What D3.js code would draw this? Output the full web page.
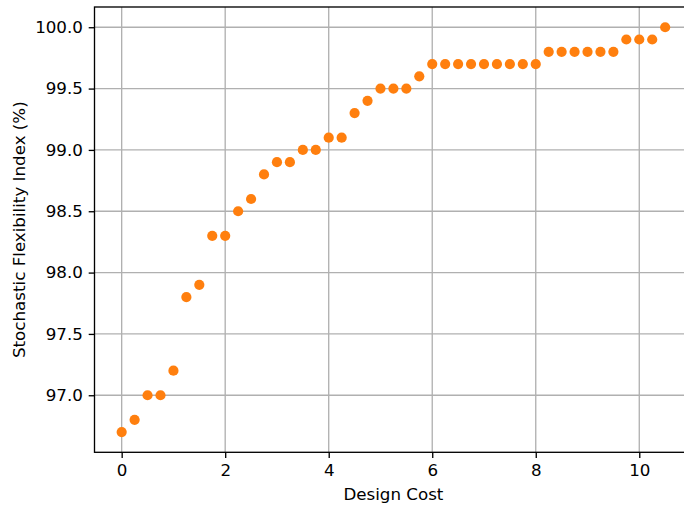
<!DOCTYPE html>
<html><head><meta charset="utf-8">
<script src="https://cdn.jsdelivr.net/npm/d3@7"></script>
<style>body{margin:0;background:#fff}svg{display:block}text{font-family:"DejaVu Sans",sans-serif}</style>
</head><body><svg id="c" width="684" height="506"></svg>
<script>
const designCost = [0,0.25,0.5,0.75,1,1.25,1.5,1.75,2,2.25,2.5,2.75,3,3.25,3.5,3.75,4,4.25,4.5,4.75,5,5.25,5.5,5.75,6,6.25,6.5,6.75,7,7.25,7.5,7.75,8,8.25,8.5,8.75,9,9.25,9.5,9.75,10,10.25,10.5];
const flexIndex = [96.7,96.8,97.0,97.0,97.2,97.8,97.9,98.3,98.3,98.5,98.6,98.8,98.9,98.9,99.0,99.0,99.1,99.1,99.3,99.4,99.5,99.5,99.5,99.6,99.7,99.7,99.7,99.7,99.7,99.7,99.7,99.7,99.7,99.8,99.8,99.8,99.8,99.8,99.8,99.9,99.9,99.9,100.0];
const xTicks = [0,2,4,6,8,10];
const yTicks = [97.0,97.5,98.0,98.5,99.0,99.5,100.0];
const xLabel = "Design Cost";
const yLabel = "Stochastic Flexibility Index (%)";

const L = 94.5, T = 7, B = 452.3;
const FS = 16.7, TK = 5.8, LW = 1.33;
const xs = d3.scaleLinear().domain([-0.525, 11.025]).range([L, L + 11.55*51.76]);
const ys = d3.scaleLinear().domain([96.535, 100.165]).range([B, T]);
const svg = d3.select("#c");
const R = xs.range()[1];

// grid
svg.append("g").selectAll("line").data(xTicks).join("line")
  .attr("x1", d=>xs(d)).attr("x2", d=>xs(d)).attr("y1", T).attr("y2", B)
  .attr("stroke", "#b0b0b0").attr("stroke-width", LW);
svg.append("g").selectAll("line").data(yTicks).join("line")
  .attr("x1", L).attr("x2", R).attr("y1", d=>ys(d)).attr("y2", d=>ys(d))
  .attr("stroke", "#b0b0b0").attr("stroke-width", LW);

// points
svg.append("g").selectAll("circle").data(designCost).join("circle")
  .attr("cx", d=>xs(d)).attr("cy", (d,i)=>ys(flexIndex[i])).attr("r", 5.1)
  .attr("fill", "#ff7f0e");

// axes
const xa = svg.append("g").attr("transform", `translate(0,${B})`)
  .call(d3.axisBottom(xs).tickValues(xTicks).tickFormat(d3.format("d")).tickSize(TK).tickPadding(TK));
const ya = svg.append("g").attr("transform", `translate(${L},0)`)
  .call(d3.axisLeft(ys).tickValues(yTicks).tickFormat(d3.format(".1f")).tickSize(TK).tickPadding(TK));
[xa, ya].forEach(a => {
  a.select(".domain").remove();
  a.selectAll("line").attr("stroke", "#000").attr("stroke-width", LW);
  a.selectAll("text").attr("font-size", FS).attr("fill", "#000").attr("font-family", "DejaVu Sans");
});

// spines
svg.append("rect").attr("x", L).attr("y", T).attr("width", R - L).attr("height", B - T)
  .attr("fill", "none").attr("stroke", "#000").attr("stroke-width", LW);

svg.append("text").attr("x", (L + R)/2).attr("y", 500).attr("text-anchor", "middle")
  .attr("font-size", FS).text(xLabel);
svg.append("text").attr("transform", `translate(24.5,${(T+B)/2}) rotate(-90)`).attr("text-anchor", "middle")
  .attr("font-size", FS).text(yLabel);
</script></body></html>
